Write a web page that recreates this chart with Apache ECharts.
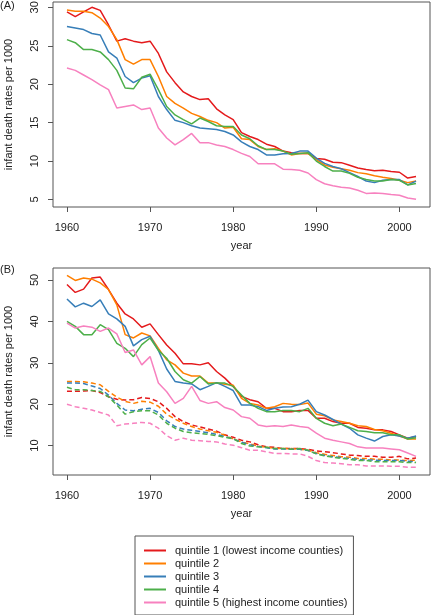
<!DOCTYPE html>
<html><head><meta charset="utf-8">
<script src="https://cdn.jsdelivr.net/npm/echarts@6/dist/echarts.min.js"></script>
<style>html,body{margin:0;padding:0;background:#fff}#c{width:431px;height:615px}</style>
</head><body><div id="c"></div>
<script>
const years = [1960,1961,1962,1963,1964,1965,1966,1967,1968,1969,1970,1971,1972,1973,1974,1975,1976,1977,1978,1979,1980,1981,1982,1983,1984,1985,1986,1987,1988,1989,1990,1991,1992,1993,1994,1995,1996,1997,1998,1999,2000,2001,2002];
const names = ['quintile 1 (lowest income counties)','quintile 2','quintile 3','quintile 4','quintile 5 (highest income counties)'];
const colors = ['#E41A1C','#FF7F00','#377EB8','#4DAF4A','#F781BF'];
const xTicks = [1960,1970,1980,1990,2000];
const yTicksA = [5,10,15,20,25,30];
const yTicksB = [10,20,30,40,50];

// Panel A
const aQ1 = [29.4,28.8,29.4,30.0,29.6,27.7,25.6,25.9,25.6,25.4,25.6,24.0,21.6,20.2,19.0,18.4,18.0,18.1,16.8,16.0,15.4,13.7,13.2,12.8,12.2,11.9,11.3,11.1,11.0,11.0,10.35,10.25,9.85,9.8,9.45,9.1,8.9,8.75,8.8,8.65,8.55,7.8,8.0];
const aQ2 = [29.65,29.5,29.5,29.3,28.6,27.5,25.8,23.2,22.6,23.2,23.2,21.0,18.4,17.5,16.9,16.2,15.8,15.3,15.0,14.3,14.4,12.9,12.8,11.9,11.5,11.6,11.3,10.8,11.0,11.0,10.2,9.5,9.2,9.0,8.8,8.5,8.35,8.1,7.9,7.75,7.5,7.2,7.4];
const aQ3 = [27.5,27.3,27.1,26.6,26.4,24.2,23.4,21.0,20.2,20.8,21.1,18.4,16.7,15.3,15.0,14.6,14.3,14.2,14.1,13.85,13.4,12.5,11.9,11.5,10.8,10.8,10.95,11.0,11.3,11.3,10.4,9.7,9.3,9.0,8.5,8.0,7.4,7.2,7.5,7.6,7.6,6.9,7.4];
const aQ4 = [25.8,25.4,24.5,24.5,24.2,23.2,21.8,19.5,19.4,20.9,21.3,19.3,17.1,16.0,15.4,14.85,15.6,15.15,14.6,14.5,14.5,13.4,12.9,12.0,11.5,11.5,11.3,10.9,11.0,11.1,10.0,9.3,8.7,8.7,8.4,7.9,7.6,7.4,7.4,7.6,7.5,6.9,7.1];
const aQ5 = [22.1,21.8,21.2,20.6,19.9,19.3,16.9,17.1,17.3,16.7,16.9,14.3,13.0,12.1,12.8,13.6,12.4,12.4,12.1,11.9,11.5,11.0,10.6,9.65,9.65,9.65,8.95,8.9,8.8,8.45,7.6,7.05,6.8,6.6,6.5,6.2,5.8,5.85,5.8,5.65,5.55,5.2,5.05];

// Panel B solid
const bQ1 = [48.9,47.0,47.8,50.5,50.7,47.7,44.4,41.8,40.6,38.6,39.4,36.8,34.3,32.3,29.75,29.75,29.5,30.0,27.9,26.3,24.3,21.9,21.1,20.6,19.0,19.0,18.2,18.2,18.5,18.5,16.6,16.6,15.8,15.4,15.4,14.4,14.2,13.8,13.8,13.4,12.6,11.8,12.2];
const bQ2 = [51.1,49.9,50.5,50.2,49.3,47.7,44.0,36.8,36.0,37.2,36.5,33.5,30.7,29.5,27.5,26.8,26.8,25.1,25.1,24.8,24.6,21.4,20.2,19.8,19.0,19.4,20.2,20.0,19.9,20.3,17.6,17.2,16.2,15.8,15.4,14.8,14.6,13.9,13.6,13.0,12.3,11.6,11.6];
const bQ3 = [45.4,43.5,44.4,43.6,45.2,41.8,40.6,38.8,34.1,35.6,36.4,33.0,28.5,25.5,25.1,24.9,23.5,24.3,25.2,24.3,23.3,19.8,19.8,19.4,18.5,19.0,19.3,19.4,20.0,21.0,18.2,17.4,16.3,15.2,14.2,12.6,11.8,11.1,12.2,12.6,12.3,11.8,12.3];
const bQ4 = [40.0,38.8,36.8,36.8,39.2,38.0,34.7,33.5,31.5,34.4,36.0,33.0,31.1,27.9,25.9,25.1,26.7,24.9,25.1,25.1,24.3,22.2,20.2,19.0,18.2,18.2,18.5,18.5,18.2,19.0,16.6,15.4,14.8,15.2,14.4,13.6,13.4,13.1,13.1,12.6,12.6,11.6,11.9];
const bQ5 = [39.6,38.4,38.9,38.6,37.6,38.4,37.0,32.5,33.1,29.5,31.5,25.1,23.0,20.2,21.4,24.3,20.9,20.2,20.6,19.2,18.6,17.0,16.6,15.0,14.6,14.8,14.6,15.0,14.6,14.4,13.0,11.8,11.3,10.9,10.5,9.7,9.4,9.4,9.4,9.2,9.0,8.2,7.4];

// Panel B dashed
const dQ1 = [23.1,23.1,23.2,23.3,22.8,21.8,21.2,21.0,21.1,21.6,21.4,20.6,19.0,17.0,15.8,15.0,14.5,14.0,13.5,12.6,12.0,11.3,10.9,10.2,9.7,9.6,9.3,9.3,9.3,9.1,8.7,8.5,8.3,8.0,7.7,7.6,7.4,7.4,7.2,7.2,7.4,6.8,7.0];
const dQ2 = [25.5,25.5,25.4,25.1,24.7,23.1,21.7,20.7,20.2,20.7,20.5,19.5,17.6,16.4,15.4,14.6,14.0,13.6,13.2,12.5,11.6,10.9,10.4,9.9,9.6,9.3,9.3,9.3,9.1,8.9,8.3,7.9,7.6,7.3,7.2,6.9,6.9,6.7,6.7,6.5,6.5,6.4,6.5];
const dQ3 = [25.1,25.1,25.0,24.4,23.8,22.2,20.2,18.6,18.4,18.8,19.0,18.0,16.0,14.6,14.0,13.7,13.4,13.1,12.7,12.2,11.6,10.8,10.2,9.8,9.5,9.2,9.2,9.1,9.1,8.8,8.1,7.6,7.3,7.1,6.9,6.7,6.5,6.5,6.4,6.4,6.4,6.2,6.1];
const dQ4 = [24.1,23.5,23.5,23.3,23.1,21.8,19.8,17.6,18.2,18.4,18.4,17.4,15.4,14.2,13.4,13.1,12.9,12.7,12.4,12.0,11.7,10.5,9.9,9.7,9.6,9.3,9.3,9.1,9.3,8.9,8.0,7.5,7.2,6.9,6.7,6.4,6.4,6.1,6.1,6.1,6.1,5.9,5.9];
const dQ5 = [20.0,19.4,19.0,18.6,18.0,17.4,14.8,15.2,15.4,15.6,15.4,14.2,12.4,11.3,11.8,11.3,11.2,11.0,10.9,10.4,10.1,9.5,8.9,8.9,8.5,8.1,8.1,8.0,8.0,7.4,6.4,5.9,5.8,5.6,5.4,5.4,5.1,5.1,5.1,5.0,5.0,4.8,4.8];

const pair = arr => arr.map((v,i)=>[years[i],v]);
const FONT = 'Liberation Sans, Arial, sans-serif';
const TXT = '#222';

function xAxisCfg(idx){
  return {
    type:'value', gridIndex:idx, min:1958.32, max:2003.68,
    name:'year', nameLocation:'middle', nameGap:33,
    nameTextStyle:{fontFamily:FONT,fontSize:11,color:TXT},
    axisLine:{show:false},
    axisTick:{show:true,length:5,lineStyle:{color:'#555'},customValues:xTicks},
    axisLabel:{fontFamily:FONT,fontSize:11,color:TXT,margin:15,customValues:xTicks,formatter:v=>String(v)},
    splitLine:{show:false}
  };
}
function yAxisCfg(idx,min,max,ticks){
  return {
    type:'value', gridIndex:idx, min:min, max:max,
    name:'infant death rates per 1000', nameLocation:'middle', nameGap:39,
    nameTextStyle:{fontFamily:FONT,fontSize:11,color:TXT},
    axisLine:{show:false},
    axisTick:{show:true,length:5,lineStyle:{color:'#555'},customValues:ticks},
    axisLabel:{fontFamily:FONT,fontSize:11,color:TXT,margin:13,rotate:90,customValues:ticks,formatter:v=>String(v)},
    splitLine:{show:false}
  };
}

const series = [];
const dashed = [dQ1,dQ2,dQ3,dQ4,dQ5];
dashed.forEach((d,i)=>series.push({
  name:'d'+(i+1), type:'line', xAxisIndex:1, yAxisIndex:1, data:pair(d),
  showSymbol:false, symbol:'none', silent:true,
  lineStyle:{color:colors[i],width:1.5,type:[5,3]}, itemStyle:{color:colors[i]}
}));
const aAll = [aQ1,aQ2,aQ3,aQ4,aQ5];
const bAll = [bQ1,bQ2,bQ3,bQ4,bQ5];
aAll.forEach((d,i)=>series.push({
  name:names[i], type:'line', xAxisIndex:0, yAxisIndex:0, data:pair(d),
  showSymbol:false, symbol:'none', lineStyle:{color:colors[i],width:1.5}, itemStyle:{color:colors[i]}
}));
bAll.forEach((d,i)=>series.push({
  name:names[i], type:'line', xAxisIndex:1, yAxisIndex:1, data:pair(d),
  showSymbol:false, symbol:'none', lineStyle:{color:colors[i],width:1.5}, itemStyle:{color:colors[i]}
}));

const chart = echarts.init(document.getElementById('c'), null, {renderer:'canvas'});
chart.setOption({
  animation:false,
  backgroundColor:'#fff',
  textStyle:{fontFamily:FONT},
  grid:[
    {left:53, top:2, width:377, height:205, show:true, borderColor:'#555', borderWidth:1, backgroundColor:'transparent', containLabel:false, outerBoundsMode:'none'},
    {left:53, top:268, width:377, height:207, show:true, borderColor:'#555', borderWidth:1, backgroundColor:'transparent', containLabel:false, outerBoundsMode:'none'}
  ],
  xAxis:[xAxisCfg(0), xAxisCfg(1)],
  yAxis:[yAxisCfg(0,4.03,30.69,yTicksA), yAxisCfg(1,2.9,52.9,yTicksB)],
  legend:{
    data:names, orient:'vertical', left:135, top:536,
    padding:[8,6,6,9], itemGap:0, itemWidth:22, itemHeight:2, icon:'rect',
    borderColor:'#555', borderWidth:1, borderRadius:0,
    textStyle:{fontFamily:FONT,fontSize:11,color:TXT,lineHeight:13,padding:[0,0,0,4]},
    selectedMode:false
  },
  graphic:[
    {type:'text', left:0, top:0, style:{text:'(A)', font:'11px '+FONT, fill:TXT}},
    {type:'text', left:0, top:264, style:{text:'(B)', font:'11px '+FONT, fill:TXT}}
  ],
  series:series
});
</script></body></html>
